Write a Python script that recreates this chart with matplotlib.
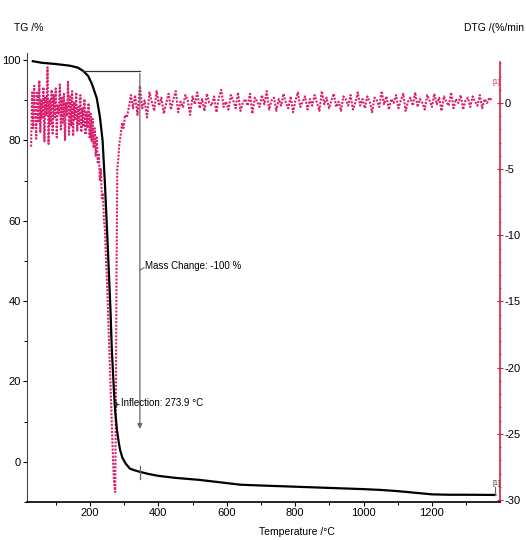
import matplotlib.pyplot as plt
from matplotlib.ticker import MultipleLocator
import numpy as np

# TG curve (mass %)
tg_temp = [33, 60, 100, 140, 165, 180, 195, 206, 220, 229, 237, 244, 253, 260, 264,
           270, 274, 279, 284, 288, 295, 305, 317, 330, 346, 370, 400, 450, 520, 600,
           640, 700, 800, 900, 1000, 1050, 1100, 1150, 1200, 1250, 1300, 1385]
tg_mass = [99.7, 99.3, 99.0, 98.6, 98.1, 97.3, 96.0, 94.0, 90.5, 86.0, 80.0, 69.0, 52.0, 38.0, 28.0,
           18.0, 12.5, 8.0, 5.0, 3.0, 1.0, -0.5, -1.7, -2.1, -2.5, -3.0, -3.5, -4.0, -4.5, -5.3,
           -5.7, -5.9, -6.2, -6.5, -6.8, -7.0, -7.3, -7.7, -8.1, -8.2, -8.2, -8.25]

# DTG (%/min), noisy start
dtg_start = [-3.3, 0.8, -1.9, 1.3, -0.6, -2.7, 0.9, -1.4, 1.7, -2.2,
             0.3, -1.1, 1.2, -2.9, 0.5, -0.9, 2.7, -3.1, 0.2, -1.6,
             1.0, -2.3, 0.6, -1.2, 1.1, -2.6, -0.1, -0.8, 1.4, -2.0,
             0.4, -1.5, 0.7, -2.8, 0.0, -1.0, 1.6, -2.4, 0.5, -1.7,
             0.9, -2.5, 0.1, -1.3, 0.8, -2.1, -0.3, -1.6, 0.6, -2.2,
             -0.4, -1.8, 0.3, -2.4, -0.7, -1.9, 0.0, -2.6]
# DTG around the main peak
dtg_peak_temp = [202, 205, 208, 211, 214, 217, 220, 223, 226, 229, 232, 235, 238, 241, 244,
                 247, 250, 253, 256, 259, 262, 265, 268, 271, 274, 276, 278, 280, 283, 286,
                 290, 294, 298, 303, 308, 314, 320, 326]
dtg_peak = [-0.8, -2.9, -1.2, -3.4, -1.9, -4.0, -2.6, -4.6, -3.8, -5.9, -5.0, -7.2, -6.8, -8.9, -9.6,
            -11.8, -13.5, -15.8, -18.0, -20.6, -22.9, -25.2, -27.3, -28.8, -29.4, -22.0, -12.0, -5.0, -4.2, -3.1,
            -2.4, -1.5, -1.9, -0.9, -1.1, -0.3, 0.6, -0.4]
# DTG flat tail
dtg_tail = [0.6, -0.9, 1.3, -0.4, 0.2, -1.1, 0.8, 0.1, -0.6, 0.9,
            -0.2, 0.4, -0.8, 0.0, 0.7, -0.5, 0.3, 0.9, -0.7, 0.1,
            -0.3, 0.6, 0.2, -0.9, 0.5, -0.1, 0.8, -0.4, 0.3, -0.6,
            0.7, 0.0, -0.2, 0.5, -0.7, 0.4, 1.0, -0.3, 0.1, -0.5,
            0.6, 0.2, -0.4, 0.8, -0.6, 0.0, 0.3, -0.2, 0.7, -0.8,
            0.4, 0.1, -0.3, 0.6, -0.1, 0.9, -0.5, 0.2, 0.4, -0.6,
            0.3, -0.2, 0.7, 0.0, -0.4, 0.5, -0.7, 0.2, 0.8, -0.3,
            0.1, 0.5, -0.5, 0.3, -0.2, 0.6, 0.0, -0.6, 0.9, -0.1,
            0.4, -0.4, 0.2, 0.7, -0.3, 0.1, -0.6, 0.5, 0.3, -0.2,
            0.6, -0.5, 0.0, 0.8, -0.2, 0.3, -0.4, 0.5, 0.1, -0.7,
            0.4, 0.2, -0.3, 0.9, -0.1, 0.5, -0.5, 0.3, 0.0, 0.6,
            -0.4, 0.2, 0.7, -0.6, 0.1, 0.4, -0.2, 0.8, -0.3, 0.3,
            0.0, -0.5, 0.6, 0.2, -0.3, 0.7, -0.1, 0.4, -0.6, 0.5,
            0.1, -0.2, 0.8, -0.4, 0.3, 0.0, 0.6, -0.5, 0.2, 0.4,
            -0.3, 0.5, 0.1, -0.2, 0.6, -0.4, 0.3, 0.0, 0.4, 0.2]

start_temp = np.arange(len(dtg_start)) * 3 + 28
tail_temp = np.arange(len(dtg_tail)) * 7 + 332
dtg_temp = np.concatenate([start_temp, dtg_peak_temp, tail_temp])
dtg_val = np.concatenate([dtg_start, dtg_peak, dtg_tail])

step_start, step_end, step_level = 180, 346, 97.3
inflection_temp, inflection_mass = 276, 14.5

pink = "#dc1f6e"
red = "#d8203f"
gray = "#666666"
plt.rcParams["font.family"] = ["Liberation Sans", "DejaVu Sans"]
plt.rcParams["font.size"] = 8
plt.rcParams["axes.unicode_minus"] = False

fig = plt.figure(figsize=(5.26, 5.40), dpi=100)
ax = fig.add_axes([0.0513, 0.0704, 0.8993, 0.8315])
ax2 = ax.twinx()

# DTG on the right axis
ax2.plot(dtg_temp, dtg_val, color=pink, linestyle=(0, (1, 0.7)), linewidth=1.5)
ax2.set_ylim(-30.15, 3.78)
ax2.yaxis.set_minor_locator(MultipleLocator(1))
ax2.set_yticks([0, -5, -10, -15, -20, -25, -30])
ax2.tick_params(axis="y", which="major", colors=red, labelcolor="black", length=4,
                direction="inout", pad=1.5, labelsize=8)
ax2.tick_params(axis="y", which="minor", colors=red, length=2, direction="inout")
for s in ["top", "left", "bottom"]:
    ax2.spines[s].set_visible(False)
ax2.spines["right"].set_color(red)
ax2.spines["right"].set_linewidth(1.2)
ax2.spines["right"].set_bounds(-30.15, 3.1)
ax2.text(1376, 1.4, "[1]", fontsize=5, color=pink)

# TG on the left axis, drawn above DTG
ax.set_zorder(ax2.get_zorder() + 1)
ax.patch.set_visible(False)
ax.plot(tg_temp, tg_mass, color="black", linewidth=1.6)
ax.set_xlim(16, 1399)
ax.set_ylim(-10, 101.75)
ax.set_xticks([200, 400, 600, 800, 1000, 1200])
ax.xaxis.set_minor_locator(MultipleLocator(100))
ax.set_yticks([0, 20, 40, 60, 80, 100])
ax.yaxis.set_minor_locator(MultipleLocator(10))
ax.tick_params(length=3, width=0.8, pad=1.5, labelsize=8)
ax.tick_params(which="minor", length=2, width=0.7)
for s in ["top", "right"]:
    ax.spines[s].set_visible(False)
ax.spines["left"].set_color("#444444")
ax.spines["bottom"].set_linewidth(1.2)

# mass change step annotation
ax.plot([step_start, step_end], [step_level, step_level], color="#333333", linewidth=0.9)
ax.annotate("", xy=(step_end, 7.5), xytext=(step_end, step_level),
            arrowprops=dict(arrowstyle="-|>", color=gray, lw=0.9, mutation_scale=7))
ax.plot([step_end, step_end], [-1.0, -4.3], color=gray, linewidth=0.9)
ax.plot([step_end, step_end + 12], [47.7, 48.3], color=gray, linewidth=0.8)
ax.text(360, 48.7, "Mass Change: -100 %", fontsize=7, va="center")

# inflection annotation
ax.plot(inflection_temp, inflection_mass, marker="+", color="#333333", markersize=5)
ax.text(290, inflection_mass + 0.2, "Inflection: 273.9 °C", fontsize=7, va="center")

ax.plot([1384, 1384], [-6.2, -8.25], color=gray, linewidth=0.8)
ax.text(1376, -5.8, "[1]", fontsize=5, color="#333333")

fig.text(14 / 526, 1 - 28 / 540, "TG /%", fontsize=7.5, va="center")
fig.text(524 / 526, 1 - 28 / 540, "DTG /(%/min", fontsize=7.5, ha="right", va="center")
fig.text(297 / 526, 1 - 532 / 540, "Temperature /°C", fontsize=7.5, ha="center", va="center")

fig.savefig("out.png", dpi=100)
plt.close(fig)
